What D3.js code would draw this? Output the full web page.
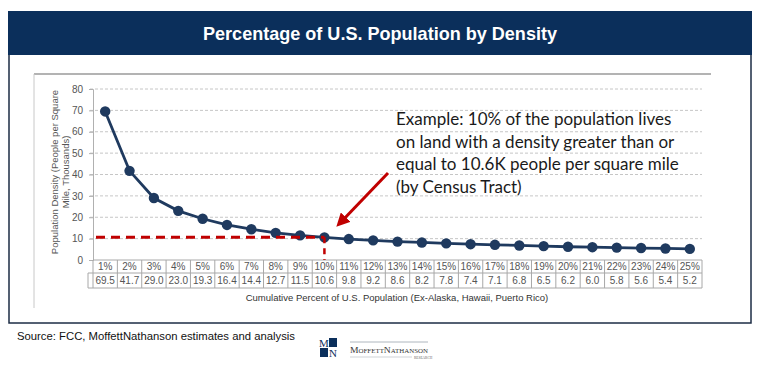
<!DOCTYPE html>
<html>
<head>
<meta charset="utf-8">
<script src="https://cdn.jsdelivr.net/npm/d3@7"></script>
<style>
  body { margin: 0; background: #fff; }
  svg { display: block; font-family: "Liberation Sans", Arial, sans-serif; }
</style>
</head>
<body>
<div id="chart"></div>
<script>
// Data
const categories = ["1%","2%","3%","4%","5%","6%","7%","8%","9%","10%","11%","12%","13%",
  "14%","15%","16%","17%","18%","19%","20%","21%","22%","23%","24%","25%"];
const density = [69.5, 41.7, 29.0, 23.0, 19.3, 16.4, 14.4, 12.7, 11.5, 10.6, 9.8, 9.2, 8.6,
  8.2, 7.8, 7.4, 7.1, 6.8, 6.5, 6.2, 6.0, 5.8, 5.6, 5.4, 5.2];
const yTicks = [0, 10, 20, 30, 40, 50, 60, 70, 80];
const highlightIndex = 9; // the 10% point
const noteLines = [
  "Example: 10% of the population lives",
  "on land with a density greater than or",
  "equal to 10.6K people per square mile",
  "(by Census Tract)"
];

const width = 759, height = 367;
const navy = "#0b2f5b", lineColor = "#1f3a5f", red = "#c00000";

const svg = d3.select("#chart")
  .append("svg").attr("width", width).attr("height", height);

// ==== Frame + title ====
svg.append("rect")
  .attr("x", 9).attr("y", 54).attr("width", 742).attr("height", 269)
  .attr("fill", "#fff").attr("stroke", "#1c2c44").attr("stroke-width", 1.5);

svg.append("rect")
  .attr("x", 8).attr("y", 11).attr("width", 744).attr("height", 44)
  .attr("fill", navy);

svg.append("text")
  .attr("x", 380).attr("y", 40)
  .attr("text-anchor", "middle")
  .attr("fill", "#fff")
  .attr("font-size", 19).attr("font-weight", "bold")
  .attr("textLength", 354).attr("lengthAdjust", "spacingAndGlyphs")
  .text("Percentage of U.S. Population by Density");

// inner chart border (top + left only visible)
svg.append("line").attr("x1", 34).attr("x2", 711).attr("y1", 74).attr("y2", 74)
  .attr("stroke", "#9a9a9a").attr("stroke-width", 1.5);
svg.append("line").attr("x1", 34).attr("x2", 34).attr("y1", 74).attr("y2", 308)
  .attr("stroke", "#c8c8c8").attr("stroke-width", 1);

// ==== Scales ====
const x = d3.scaleBand().domain(categories).range([93, 702]);
const y = d3.scaleLinear().domain([0, 80]).range([260, 89]);
const cx = d => x(d) + x.bandwidth() / 2;

// gridlines
svg.append("g")
  .selectAll("line")
  .data(yTicks.filter(t => t > 0))
  .join("line")
  .attr("x1", 90).attr("x2", 702)
  .attr("y1", d => y(d)).attr("y2", d => y(d))
  .attr("stroke", "#b8b8b8").attr("stroke-dasharray", "3,2").attr("stroke-width", 0.8);

// y axis
const yAxis = svg.append("g")
  .attr("transform", "translate(93,0)")
  .call(d3.axisLeft(y).tickValues(yTicks).tickSize(4).tickPadding(6));
yAxis.select(".domain").attr("stroke", "#b0b0b0");
yAxis.selectAll(".tick line").attr("stroke", "#b0b0b0");
yAxis.selectAll("text").attr("fill", "#555").attr("font-size", 10)
  .attr("font-family", "Liberation Sans, Arial, sans-serif");

// y axis title
const yTitle = svg.append("text")
  .attr("transform", "translate(58,172) rotate(-90)")
  .attr("text-anchor", "middle")
  .attr("fill", "#555").attr("font-size", 9.5);
yTitle.append("tspan").attr("x", 0).attr("dy", 0).text("Population Density (People per Square");
yTitle.append("tspan").attr("x", 0).attr("dy", 11).text("Mile, Thousands)");

// ==== Data table under the axis ====
const rowTop = 260, rowMid = 273, rowBot = 288;
const tableColor = "#a8a8a8";
const table = svg.append("g");

table.append("line").attr("x1", 93).attr("x2", 702).attr("y1", rowTop).attr("y2", rowTop)
  .attr("stroke", tableColor);
table.append("line").attr("x1", 88).attr("x2", 702).attr("y1", rowMid).attr("y2", rowMid)
  .attr("stroke", tableColor);
table.append("line").attr("x1", 88).attr("x2", 702).attr("y1", rowBot).attr("y2", rowBot)
  .attr("stroke", tableColor);
table.append("line").attr("x1", 88).attr("x2", 88).attr("y1", rowMid).attr("y2", rowBot)
  .attr("stroke", tableColor);

table.selectAll(".sep")
  .data(categories.concat(["end"]))
  .join("line")
  .attr("class", "sep")
  .attr("x1", (d, i) => i < categories.length ? x(d) : x.range()[1])
  .attr("x2", (d, i) => i < categories.length ? x(d) : x.range()[1])
  .attr("y1", rowTop).attr("y2", rowBot)
  .attr("stroke", tableColor);

table.selectAll(".cat")
  .data(categories)
  .join("text")
  .attr("class", "cat")
  .attr("x", d => cx(d)).attr("y", rowTop + 10)
  .attr("text-anchor", "middle")
  .attr("fill", "#555").attr("font-size", 10)
  .text(d => d);

table.selectAll(".val")
  .data(density)
  .join("text")
  .attr("class", "val")
  .attr("x", (d, i) => cx(categories[i])).attr("y", rowMid + 11)
  .attr("text-anchor", "middle")
  .attr("fill", "#555").attr("font-size", 10)
  .text(d => d.toFixed(1));

svg.append("text")
  .attr("x", 397).attr("y", 301)
  .attr("text-anchor", "middle")
  .attr("fill", "#333").attr("font-size", 9.5)
  .text("Cumulative Percent of U.S. Population (Ex-Alaska, Hawaii, Puerto Rico)");

// ==== Line + markers ====
const line = d3.line()
  .x((d, i) => cx(categories[i]))
  .y(d => y(d));

svg.append("path")
  .datum(density)
  .attr("d", line)
  .attr("fill", "none")
  .attr("stroke", lineColor)
  .attr("stroke-width", 2.8);

svg.append("g")
  .selectAll("circle")
  .data(density)
  .join("circle")
  .attr("cx", (d, i) => cx(categories[i]))
  .attr("cy", d => y(d))
  .attr("r", 5.2)
  .attr("fill", lineColor);

// ==== Red reference lines ====
const hx = cx(categories[highlightIndex]);
const hy = y(density[highlightIndex]);

svg.append("line")
  .attr("x1", 96).attr("x2", hx)
  .attr("y1", hy).attr("y2", hy)
  .attr("stroke", red).attr("stroke-width", 3)
  .attr("stroke-dasharray", "9,6");

svg.append("line")
  .attr("x1", hx).attr("x2", hx)
  .attr("y1", hy).attr("y2", y(0))
  .attr("stroke", red).attr("stroke-width", 2.5)
  .attr("stroke-dasharray", "6,5");

// arrow
svg.append("defs").append("marker")
  .attr("id", "arrowhead")
  .attr("viewBox", "0 0 10 10")
  .attr("refX", 5).attr("refY", 5)
  .attr("markerWidth", 4.5).attr("markerHeight", 4.5)
  .attr("orient", "auto")
  .append("path").attr("d", "M0,0 L10,5 L0,10 z").attr("fill", red);

svg.append("line")
  .attr("x1", 388).attr("y1", 173)
  .attr("x2", 341).attr("y2", 222)
  .attr("stroke", red).attr("stroke-width", 3)
  .attr("marker-end", "url(#arrowhead)");

// annotation
svg.append("g")
  .selectAll("text")
  .data(noteLines)
  .join("text")
  .attr("x", 396)
  .attr("y", (d, i) => 125 + i * 22.7)
  .attr("font-family", "Lato, 'Open Sans', sans-serif")
  .attr("font-size", 17)
  .attr("fill", "#1a1a1a")
  .text(d => d);

// ==== Footer ====
svg.append("text")
  .attr("x", 17).attr("y", 340)
  .attr("fill", "#111").attr("font-size", 11.3)
  .text("Source: FCC, MoffettNathanson estimates and analysis");

// logo
const logo = svg.append("g").attr("transform", "translate(320,338)");
logo.append("rect").attr("x", 9).attr("y", 0).attr("width", 8).attr("height", 9).attr("fill", navy);
logo.append("rect").attr("x", 0).attr("y", 10).attr("width", 8).attr("height", 9).attr("fill", navy);
logo.append("text").attr("x", 4).attr("y", 8.5).attr("text-anchor", "middle")
  .attr("font-family", "Liberation Serif, serif").attr("font-size", 11).attr("fill", navy).text("M");
logo.append("text").attr("x", 13).attr("y", 19).attr("text-anchor", "middle")
  .attr("font-family", "Liberation Serif, serif").attr("font-size", 11).attr("fill", navy).text("N");
logo.append("line").attr("x1", 30).attr("x2", 108).attr("y1", 4).attr("y2", 4)
  .attr("stroke", "#9aa3ad").attr("stroke-width", 0.8);
const brand = logo.append("text").attr("x", 30).attr("y", 14.5)
  .attr("font-family", "Liberation Serif, serif").attr("fill", "#333")
  .attr("textLength", 78).attr("lengthAdjust", "spacingAndGlyphs");
brand.append("tspan").attr("font-size", 9).text("M");
brand.append("tspan").attr("font-size", 6.5).text("OFFETT");
brand.append("tspan").attr("font-size", 9).text("N");
brand.append("tspan").attr("font-size", 6.5).text("ATHANSON");
logo.append("line").attr("x1", 30).attr("x2", 92).attr("y1", 19).attr("y2", 19)
  .attr("stroke", "#b0b6bd").attr("stroke-width", 0.6);
logo.append("text").attr("x", 94).attr("y", 20.5)
  .attr("font-family", "Liberation Serif, serif").attr("font-size", 3.5).attr("fill", "#666")
  .text("RESEARCH");
</script>
</body>
</html>
